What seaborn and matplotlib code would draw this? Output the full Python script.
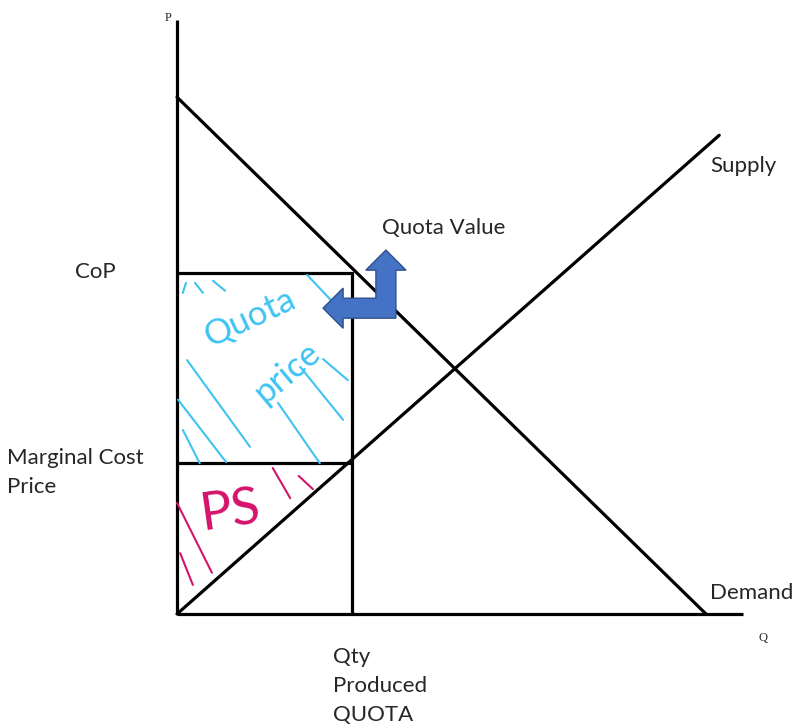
import numpy as np
import matplotlib
matplotlib.use("Agg")
import matplotlib.pyplot as plt
from matplotlib.patches import Polygon
import seaborn as sns

# curves (Q, P) in chart units
demand_q = [0.0, 10.0]
demand_p = [9.77, 0.0]
supply_q = [0.0, 10.25]
supply_p = [0.0, 9.05]

quota_q = 3.31
cop_p = 6.45
mc_p = 2.85
axis_q_max = 10.7
axis_p_max = 11.23

# hand-drawn hatching strokes ((q0, p0), (q1, p1))
blue_strokes = [
    ((0.19, 4.80), (1.38, 3.16)),
    ((0.02, 4.05), (0.93, 2.87)),
    ((0.11, 3.48), (0.43, 2.85)),
    ((2.33, 4.67), (3.14, 3.67)),
    ((1.91, 3.99), (2.70, 2.85)),
    ((2.46, 6.41), (3.14, 5.69)),
    ((2.76, 4.82), (3.23, 4.42)),
    ((0.11, 6.07), (0.17, 6.26)),
    ((0.34, 6.26), (0.49, 6.07)),
    ((0.68, 6.30), (0.91, 6.11)),
]
pink_strokes = [
    ((0.00, 2.10), (0.66, 0.78)),
    ((0.06, 1.15), (0.30, 0.55)),
    ((1.81, 2.76), (2.14, 2.19)),
    ((2.30, 2.61), (2.57, 2.36)),
]

# quota value arrow (inner corner, shaft width, head half width, head length, arm lengths)
arrow_corner = (3.76, 5.97)
shaft_w = 0.378
head_hw = 0.38
head_len = 0.38
up_arm = 0.53
left_arm = 0.62

sns.set_theme(style="white")
plt.rcParams['font.family'] = ['Lato', 'DejaVu Sans']

fig = plt.figure(figsize=(8.06, 7.28), dpi=100)
ax = fig.add_axes([0, 0, 1, 1])
s = 52.9
ax.set_xlim(-177 / s, (806 - 177) / s)
ax.set_ylim(-(728 - 614) / s, 614 / s)
ax.axis('off')

lw = 2.3
ax.plot([0, 0], [0, axis_p_max], color='black', lw=lw, solid_capstyle='butt')
ax.plot([0, axis_q_max], [0, 0], color='black', lw=lw, solid_capstyle='butt')
sns.lineplot(x=demand_q, y=demand_p, ax=ax, color='black', lw=lw)
sns.lineplot(x=supply_q, y=supply_p, ax=ax, color='black', lw=lw)
ax.plot([quota_q, quota_q], [0, cop_p], color='black', lw=lw)
ax.plot([0, quota_q], [cop_p, cop_p], color='black', lw=lw)
ax.plot([0, quota_q], [mc_p, mc_p], color='black', lw=lw)

blue = '#3EC3F2'
pink = '#D4136B'
for (a, b) in blue_strokes:
    ax.plot([a[0], b[0]], [a[1], b[1]], color=blue, lw=1.5, solid_capstyle='round')
for (a, b) in pink_strokes:
    ax.plot([a[0], b[0]], [a[1], b[1]], color=pink, lw=1.5, solid_capstyle='round')

ax.text(1.38, 5.60, 'Quota', color=blue, fontsize=25,
        rotation=25, ha='center', va='center')
ax.text(2.08, 4.56, 'price', color=blue, fontsize=25,
        rotation=40, ha='center', va='center')
ax.text(1.00, 1.93, 'PS', color=pink, fontsize=38,
        rotation=8, ha='center', va='center')

# L-shaped arrow
cx, cy = arrow_corner
ux = cx + shaft_w / 2
lyc = cy - shaft_w / 2
verts = [
    (cx, cy),
    (cx, cy + up_arm),
    (ux - head_hw, cy + up_arm),
    (ux, cy + up_arm + head_len),
    (ux + head_hw, cy + up_arm),
    (cx + shaft_w, cy + up_arm),
    (cx + shaft_w, cy - shaft_w),
    (cx - left_arm, cy - shaft_w),
    (cx - left_arm, lyc - head_hw),
    (cx - left_arm - head_len, lyc),
    (cx - left_arm, lyc + head_hw),
    (cx - left_arm, cy),
]
ax.add_patch(Polygon(verts, closed=True, facecolor='#4472C4', edgecolor='#2F528F', lw=1, zorder=5))

fs = 16
ax.text(-0.17, 11.27, 'P', fontsize=9, family='Liberation Serif', ha='center', va='center')
ax.text(11.08, -0.45, 'Q', fontsize=9, family='Liberation Serif', ha='center', va='center')
ax.text(10.08, 8.47, 'Supply', fontsize=fs, ha='left', va='center')
ax.text(10.08, 0.40, 'Demand', fontsize=fs, ha='left', va='center')
ax.text(3.875, 7.30, 'Quota Value', fontsize=fs, ha='left', va='center')
ax.text(-1.93, 6.46, 'CoP', fontsize=fs, ha='left', va='center')
ax.text(-3.21, 2.67, 'Marginal Cost\nPrice', fontsize=fs, ha='left', va='center', linespacing=1.55)
ax.text(2.95, -1.36, 'Qty\nProduced\nQUOTA', fontsize=fs, ha='left', va='center', linespacing=1.55)

fig.savefig('out.png', dpi=100, facecolor='white')
